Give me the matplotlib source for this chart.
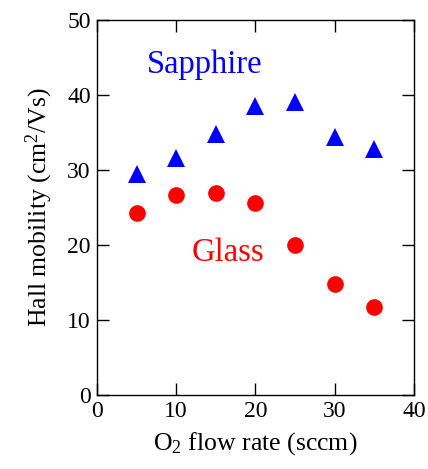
import matplotlib
matplotlib.use("Agg")
import matplotlib.pyplot as plt

plt.rcParams["font.family"] = ["Liberation Serif", "DejaVu Serif"]
plt.rcParams["mathtext.fontset"] = "custom"
plt.rcParams["mathtext.rm"] = "Liberation Serif"
plt.rcParams["mathtext.it"] = "Liberation Serif:italic"

# Podaci očitani sa slike
flow = [5, 10, 15, 20, 25, 30, 35]
sapphire = [29.5, 31.6, 34.8, 38.5, 39.1, 34.4, 32.8]
glass = [24.3, 26.7, 27.0, 25.6, 20.0, 14.8, 11.7]

fig = plt.figure(figsize=(4.28, 4.69), dpi=100)
ax = fig.add_axes([0.2266, 0.1578, 0.7404, 0.7995])

ax.plot(flow, sapphire, linestyle="none", marker="^", color="#0000ff",
        markersize=13, markeredgewidth=0)
ax.plot(flow, glass, linestyle="none", marker="o", color="#ff0000",
        markersize=12, markeredgewidth=0)

ax.text(6.3, 44, "Sapphire", color="#0000ff", fontsize=23.5, va="center", ha="left")
ax.text(12.0, 19, "Glass", color="#ff0000", fontsize=23.5, va="center", ha="left")

ax.set_xlim(0, 40)
ax.set_ylim(0, 50)
ax.set_xticks([0, 10, 20, 30, 40])
ax.set_yticks([0, 10, 20, 30, 40, 50])
ax.tick_params(direction="in", length=8.5, width=1, labelsize=17,
               top=True, right=True, pad=4.5)
for s in ax.spines.values():
    s.set_linewidth(1)

ax.set_xlabel("O$_2$ flow rate (sccm)", fontsize=18.5, labelpad=6)
ax.set_ylabel("Hall mobility (cm$^2$/Vs)", fontsize=18.5, labelpad=9)

fig.savefig("out.png", dpi=100)
